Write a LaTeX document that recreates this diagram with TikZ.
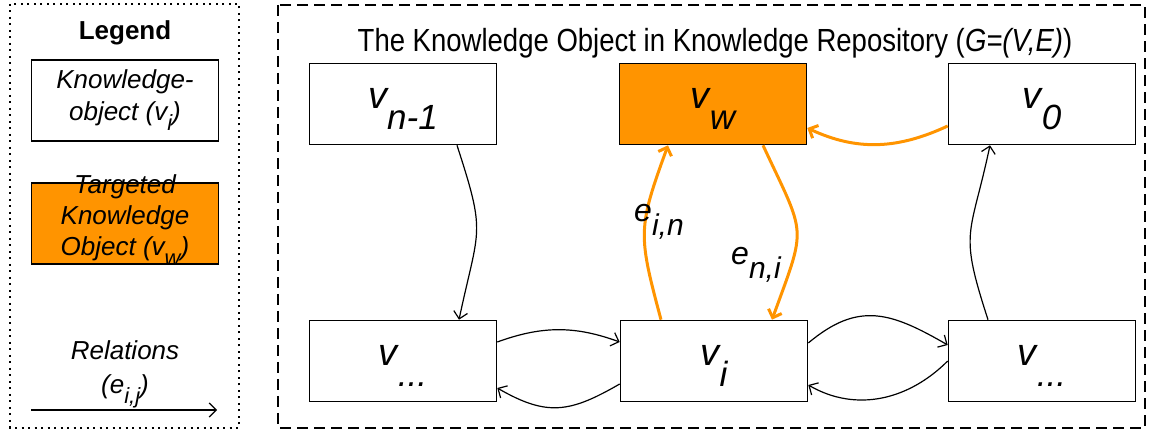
\documentclass[tikz,border=0pt]{standalone}
\usepackage{fontspec}
\setmainfont{Liberation Sans}
\newfontfamily\titlefont{Liberation Sans}[FakeStretch=0.86]
\usetikzlibrary{arrows.meta}
\definecolor{koorange}{RGB}{255,148,0}
\newcommand{\kolab}[1]{v\raisebox{-21pt}{\fontsize{35}{35}\selectfont #1}}
\newcommand{\legsub}[1]{\raisebox{-10pt}{\fontsize{22}{22}\selectfont #1}}
\newcommand{\esub}[1]{\raisebox{-14pt}{\fontsize{30}{30}\selectfont #1}}
\tikzset{
  kobox/.style={draw, line width=1.6pt, minimum width=187pt, minimum height=81pt,
    inner sep=0pt, text height=25pt, text depth=15pt,
    font=\fontsize{38}{40}\selectfont\itshape},
  target/.style={kobox, fill=koorange},
  legtext/.style={anchor=north, inner sep=0pt, text height=20pt, text depth=0pt,
    align=center, font=\fontsize{26}{32}\selectfont\itshape},
  rel/.style={-{Straight Barb[length=7pt,width=14pt]}, line width=1.2pt},
  hot/.style={rel, draw=koorange, line width=3pt},
  elab/.style={anchor=base west, inner sep=0pt, font=\fontsize{32}{32}\selectfont\itshape},
}
\begin{document}
\begin{tikzpicture}[x=1pt,y=-1pt]
  \useasboundingbox (0,0) rectangle (1163,435);
  % legend
  \draw[line width=1.5pt, dash pattern=on 2pt off 4.5pt] (10,4) rectangle (239,428);
  \node[anchor=base, font=\fontsize{26}{26}\selectfont\bfseries] (legtitle) at (125,40) {Legend};
  \node[kobox] (legko) at (125,100.5) {};
  \node[legtext] (legkotext) at (125,100) {Knowledge-\\object (v\legsub{i})};
  \node[target] (legtarget) at (125,223.5) {};
  \node[legtext, font=\fontsize{26}{31}\selectfont\itshape] (legtargettext) at (125,235)
    {Targeted\\Knowledge\\Object (v\legsub{w})};
  \node[legtext, font=\fontsize{26}{34}\selectfont\itshape] (legrel) at (125,373)
    {Relations\\(e\legsub{i,j})};
  \coordinate (relstart) at (31,410);
  \coordinate (relend) at (217,410);
  \draw[rel] (relstart) -- (relend);

  % repository
  \draw[line width=1.5pt, dash pattern=on 11pt off 6pt] (278,5) rectangle (1145,428);
  \node[anchor=base, inner sep=0pt, font=\titlefont\fontsize{32}{32}\selectfont] (title) at (715,52)
    {The Knowledge Object in Knowledge Repository (\textit{G=(V,E)})};

  \node[kobox] (vn) at (403,104) {\kolab{n-1}};
  \node[target] (vw) at (713,104) {\kolab{w}};
  \node[kobox] (v0) at (1042,104) {\kolab{0}};
  \node[kobox] (vl) at (403,361) {\kolab{...}};
  \node[kobox] (vi) at (714,361) {\kolab{i}};
  \node[kobox] (vr) at (1042,361) {\kolab{...}};

  % black relations
  \draw[rel, looseness=1.4] ([xshift=54pt]vn.south) to[out=-72,in=78] ([xshift=56pt]vl.north);
  \draw[rel, looseness=1.4] ([xshift=-54pt]vr.north) to[out=108,in=-102] ([xshift=-52pt]v0.south);
  \draw[rel] ([yshift=19pt]vl.east) to[out=20,in=160] ([yshift=19pt]vi.west);
  \draw[rel, looseness=1.2] ([yshift=-23pt]vi.west) to[out=210,in=-30] ([yshift=-27pt]vl.east);
  \draw[rel, looseness=1.2] ([yshift=18pt]vi.east) to[out=40,in=150] ([yshift=16pt]vr.west);
  \draw[rel] (vr.west) to[out=225,in=-30] ([yshift=-24pt]vi.east);

  % orange relations
  \draw[hot] ([yshift=-22pt]v0.west) to[out=205,in=-25] ([yshift=-24pt]vw.east);
  \draw[hot, looseness=1.3] ([xshift=-53pt]vi.north) to[out=105,in=-110] ([xshift=-45pt]vw.south);
  \draw[hot, looseness=1.5] ([xshift=50pt]vw.south) to[out=-65,in=70] ([xshift=58pt]vi.north);
  \node[elab] (ein) at (634,222) {e\esub{i,n}};
  \node[elab] (eni) at (731,265) {e\esub{n,i}};
\end{tikzpicture}
\end{document}
